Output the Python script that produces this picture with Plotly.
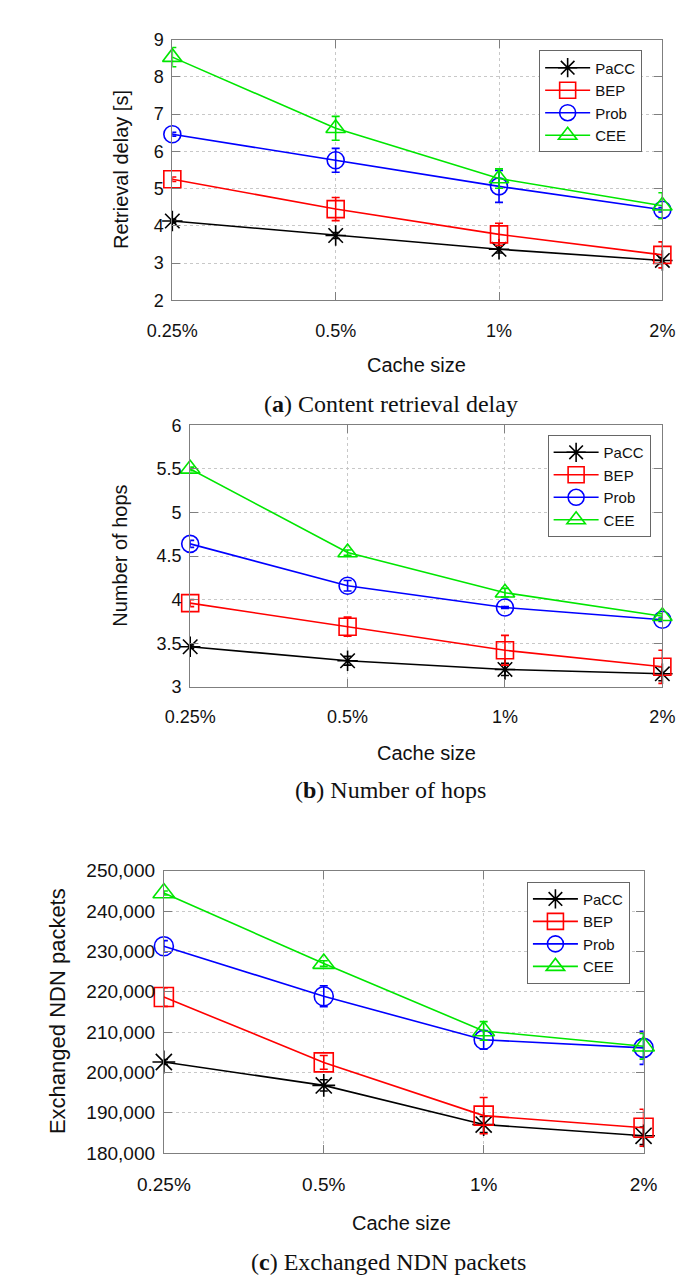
import plotly.graph_objects as go

# ---------------- data ----------------
cache_sizes = ["0.25%", "0.5%", "1%", "2%"]
series_names = ["PaCC", "BEP", "Prob", "CEE"]

# (a) Content retrieval delay [s]
delay_pacc = [4.13, 3.74, 3.37, 3.07]
delay_pacc_err = [0.05, 0.08, 0.10, 0.08]
delay_bep = [5.25, 4.45, 3.77, 3.22]
delay_bep_err = [0.06, 0.31, 0.30, 0.35]
delay_prob = [6.46, 5.76, 5.06, 4.43]
delay_prob_err = [0.05, 0.32, 0.43, 0.06]
delay_cee = [8.53, 6.62, 5.27, 4.54]
delay_cee_err = [0.26, 0.32, 0.26, 0.35]

# (b) Number of hops
hops_pacc = [3.46, 3.30, 3.20, 3.15]
hops_pacc_err = [0.02, 0.05, 0.07, 0.08]
hops_bep = [3.96, 3.69, 3.42, 3.23]
hops_bep_err = [0.04, 0.11, 0.17, 0.19]
hops_prob = [4.64, 4.16, 3.91, 3.77]
hops_prob_err = [0.04, 0.06, 0.01, 0.02]
hops_cee = [5.50, 4.54, 4.08, 3.81]
hops_cee_err = [0.02, 0.03, 0.05, 0.03]

# (c) Exchanged NDN packets
pkts_pacc = [202600, 196800, 187100, 184300]
pkts_pacc_err = [600, 1400, 2000, 2200]
pkts_bep = [218700, 202500, 189300, 186300]
pkts_bep_err = [2300, 1700, 4500, 4600]
pkts_prob = [231300, 218900, 208100, 206100]
pkts_prob_err = [1400, 2600, 2300, 4100]
pkts_cee = [244500, 227000, 210300, 206500]
pkts_cee_err = [500, 700, 2300, 3200]

# ---------------- style ----------------
W, H = 690, 1285
colors = {"PaCC": "#000000", "BEP": "#ff0000", "Prob": "#0000ff", "CEE": "#00e600"}
symbols = {"PaCC": "asterisk-open", "BEP": "square-open", "Prob": "circle-open", "CEE": "triangle-up-open"}
SANS = "Liberation Sans, Arial, sans-serif"
SERIF = "Liberation Serif, Times New Roman, serif"

def px_x(x):
    return x / W

def px_y(y):
    return 1 - y / H

panels = [
    dict(vals=[delay_pacc, delay_bep, delay_prob, delay_cee],
         errs=[delay_pacc_err, delay_bep_err, delay_prob_err, delay_cee_err],
         box=(146, 667, 22, 287), yrange=[2, 9], dtick=1, tickfmt=None,
         msize=17, tfont=18, legend="legend"),
    dict(vals=[hops_pacc, hops_bep, hops_prob, hops_cee],
         errs=[hops_pacc_err, hops_bep_err, hops_prob_err, hops_cee_err],
         box=(165, 667, 414, 680), yrange=[3, 6], dtick=0.5, tickfmt=None,
         msize=17, tfont=18, legend="legend2"),
    dict(vals=[pkts_pacc, pkts_bep, pkts_prob, pkts_cee],
         errs=[pkts_pacc_err, pkts_bep_err, pkts_prob_err, pkts_cee_err],
         box=(137, 647, 867, 1154), yrange=[180000, 250000], dtick=10000, tickfmt=",d",
         msize=19, tfont=19, legend="legend3"),
]

fig = go.Figure()
layout = {}
for i, p in enumerate(panels):
    sfx = "" if i == 0 else str(i + 1)
    xa, ya = "x" + sfx, "y" + sfx
    for name, v, e in zip(series_names, p["vals"], p["errs"]):
        fig.add_trace(go.Scatter(
            x=cache_sizes, y=v, name=name, mode="lines+markers",
            xaxis=xa, yaxis=ya, legend=p["legend"], cliponaxis=False,
            line=dict(color=colors[name], width=1.6),
            marker=dict(symbol=symbols[name], size=p["msize"], color=colors[name],
                        line=dict(color=colors[name], width=1.6)),
            error_y=dict(type="data", array=e, visible=True, color=colors[name],
                         thickness=1.6, width=4),
        ))
    x0, x1, y0, y1 = p["box"]
    common = dict(showline=True, linecolor="#7f7f7f", linewidth=1, mirror="allticks",
                  ticks="inside", ticklen=8, tickcolor="#7f7f7f",
                  showgrid=True, gridcolor="#c8c8c8", griddash="dot", gridwidth=1,
                  zeroline=False, tickfont=dict(family=SANS, size=p["tfont"], color="#111"))
    layout["xaxis" + sfx] = dict(domain=[px_x(x0), px_x(x1)], anchor=ya,
                                 type="category", range=[0, 3],
                                 ticklabelstandoff=14, **common)
    ydict = dict(domain=[px_y(y1), px_y(y0)], anchor=xa, range=p["yrange"],
                 dtick=p["dtick"], tick0=p["yrange"][0], ticklabelstandoff=4, **common)
    if p["tickfmt"]:
        ydict["tickformat"] = p["tickfmt"]
    layout["yaxis" + sfx] = ydict

leg_common = dict(bgcolor="white", bordercolor="#666666", borderwidth=1,
                  font=dict(family=SANS, size=15, color="#111"),
                  xanchor="left", yanchor="top", itemwidth=45, tracegroupgap=0)
layout["legend"] = dict(x=px_x(536), y=px_y(33), **leg_common)
layout["legend2"] = dict(x=px_x(545), y=px_y(424), **leg_common)
layout["legend3"] = dict(x=px_x(523), y=px_y(878), **leg_common)

annotations = []
def ann(text, x, y, size, family, angle=0):
    annotations.append(dict(text=text, x=px_x(x), y=px_y(y), xref="paper", yref="paper",
                            showarrow=False, xanchor="center", yanchor="middle",
                            textangle=angle, font=dict(family=family, size=size, color="#111")))

ann("Retrieval delay [s]", 92, 154, 20, SANS, -90)
ann("Number of hops", 90, 547, 20, SANS, -90)
ann("Exchanged NDN packets", 24, 1010, 22, SANS, -90)
ann("Cache size", 406, 353, 20, SANS)
ann("Cache size", 416, 747, 20, SANS)
ann("Cache size", 390, 1225, 20, SANS)
ann("(<b>a</b>) Content retrieval delay", 378, 392, 24, SERIF)
ann("(<b>b</b>) Number of hops", 378, 785, 24, SERIF)
ann("(<b>c</b>) Exchanged NDN packets", 376, 1265, 24, SERIF)

fig.update_layout(width=W, height=H, margin=dict(l=0, r=0, t=0, b=0),
                  paper_bgcolor="white", plot_bgcolor="white",
                  annotations=annotations, **layout)

fig.write_html("out.html")
